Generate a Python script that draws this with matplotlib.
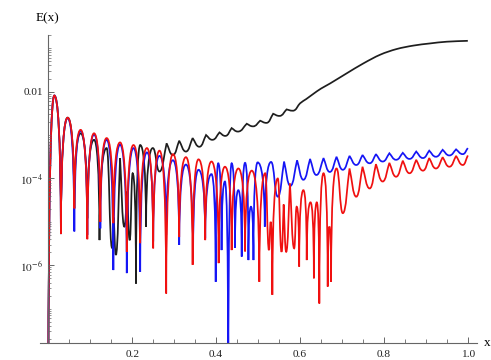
import matplotlib
matplotlib.use("Agg")
import matplotlib.pyplot as plt
import numpy as np
from matplotlib.path import Path
from matplotlib.patches import PathPatch
from matplotlib.ticker import FixedLocator, LogLocator, NullFormatter

# turning points of each curve: x and log10 E(x)
black_x = [0.000, 0.0143, 0.030, 0.046, 0.062, 0.077, 0.093, 0.109, 0.122, 0.139,
           0.152, 0.156, 0.161, 0.171, 0.181, 0.188, 0.194, 0.201, 0.209, 0.219,
           0.233, 0.249, 0.265, 0.282, 0.297, 0.312, 0.328, 0.344, 0.360, 0.376,
           0.391, 0.408, 0.422, 0.437, 0.452, 0.473, 0.488, 0.505, 0.520, 0.536,
           0.551, 0.568, 0.583, 0.600, 0.615, 0.632, 0.650, 0.672, 0.711, 0.751,
           0.791, 0.830, 0.870, 0.910, 0.950, 1.000]
black_log = [-9.0, -2.09, -5.28, -2.60, -4.69, -2.96, -4.92, -3.11, -5.42, -3.30,
             -5.60, -4.90, -5.76, -3.53, -5.11, -4.30, -5.42, -3.88, -6.42, -3.23,
             -5.11, -3.30, -3.84, -3.19, -3.46, -3.13, -3.38, -3.07, -3.27, -3.00,
             -3.11, -2.94, -3.02, -2.84, -2.92, -2.74, -2.80, -2.67, -2.72, -2.51,
             -2.56, -2.41, -2.44, -2.27, -2.17, -2.05, -1.93, -1.81, -1.58, -1.35,
             -1.15, -1.02, -0.94, -0.89, -0.85, -0.83]

blue_x = [0.000, 0.0143, 0.030, 0.046, 0.062, 0.077, 0.093, 0.109, 0.124, 0.139,
          0.155, 0.171, 0.187, 0.203, 0.219, 0.235, 0.250, 0.265, 0.281, 0.297,
          0.312, 0.328, 0.345, 0.358, 0.374, 0.389, 0.399, 0.405, 0.413, 0.421,
          0.429, 0.437, 0.445, 0.453, 0.461, 0.469, 0.477, 0.483, 0.489, 0.499,
          0.516, 0.531, 0.547, 0.562, 0.577, 0.593, 0.608, 0.624, 0.639, 0.656,
          0.671, 0.687, 0.702, 0.718, 0.734, 0.749, 0.766, 0.781, 0.797, 0.813,
          0.829, 0.845, 0.861, 0.877, 0.893, 0.908, 0.924, 0.940, 0.956, 0.972,
          0.988, 1.000]
blue_log = [-9.0, -2.09, -5.28, -2.61, -5.22, -2.90, -5.30, -2.99, -5.15, -3.11,
            -6.11, -3.22, -6.18, -3.30, -6.15, -3.40, -5.45, -3.48, -5.30, -3.58,
            -5.53, -3.68, -5.84, -3.80, -5.38, -3.90, -6.38, -3.65, -5.65, -4.07,
            -9.00, -3.65, -5.60, -4.27, -5.80, -3.64, -5.88, -4.65, -5.88, -3.63,
            -5.11, -3.62, -4.42, -3.61, -4.17, -3.58, -4.03, -3.55, -3.92, -3.53,
            -3.85, -3.50, -3.80, -3.48, -3.69, -3.46, -3.65, -3.44, -3.61, -3.42,
            -3.57, -3.41, -3.55, -3.38, -3.53, -3.36, -3.50, -3.34, -3.47, -3.33,
            -3.44, -3.30]

red_x = [0.000, 0.0143, 0.030, 0.046, 0.062, 0.077, 0.093, 0.109, 0.124, 0.139,
         0.155, 0.171, 0.187, 0.203, 0.219, 0.235, 0.250, 0.265, 0.281, 0.297,
         0.312, 0.328, 0.344, 0.358, 0.374, 0.389, 0.406, 0.421, 0.437, 0.453,
         0.469, 0.485, 0.503, 0.517, 0.526, 0.530, 0.534, 0.547, 0.556, 0.561,
         0.567, 0.576, 0.586, 0.592, 0.598, 0.608, 0.616, 0.625, 0.633, 0.640,
         0.646, 0.656, 0.666, 0.670, 0.674, 0.687, 0.702, 0.718, 0.734, 0.749,
         0.766, 0.781, 0.797, 0.813, 0.829, 0.845, 0.861, 0.877, 0.893, 0.908,
         0.924, 0.940, 0.956, 0.972, 0.988, 1.000]
red_log = [-9.0, -2.09, -5.28, -2.60, -4.69, -2.88, -5.40, -2.96, -5.00, -3.07,
           -5.03, -3.17, -5.69, -3.23, -5.49, -3.30, -5.61, -3.36, -6.65, -3.44,
           -5.35, -3.51, -5.99, -3.56, -5.42, -3.61, -5.95, -3.73, -5.65, -3.77,
           -5.68, -3.82, -6.38, -3.88, -5.65, -5.00, -6.68, -4.00, -5.69, -4.60,
           -5.69, -4.11, -5.61, -4.65, -6.03, -4.27, -5.88, -4.55, -6.30, -4.55,
           -6.88, -3.88, -6.49, -5.11, -6.38, -3.77, -4.80, -3.77, -4.42, -3.73,
           -4.23, -3.67, -4.07, -3.64, -3.96, -3.59, -3.88, -3.57, -3.82, -3.53,
           -3.77, -3.51, -3.73, -3.48, -3.69, -3.47]

y_ticks = [1e-2, 1e-4, 1e-6]
y_labels = ["0.01", r"$10^{-4}$", r"$10^{-6}$"]
x_ticks = [0.2, 0.4, 0.6, 0.8, 1.0]
x_labels = ["0.2", "0.4", "0.6", "0.8", "1.0"]


def oscillation_path(xs, logs):
    """Bezier path through the turning points: sharp dips, rounded humps."""
    pts = np.column_stack([xs, logs]).astype(float)
    n = len(pts)
    kinds = []
    for i in range(n):
        nb = [pts[j, 1] for j in (i - 1, i + 1) if 0 <= j < n]
        y = pts[i, 1]
        if all(y < v for v in nb):
            kinds.append("dip" if min(nb) - y > 1.2 else "round")
        elif all(y > v for v in nb):
            kinds.append("max")
        else:
            kinds.append("smooth")
    for i in range(n):
        if kinds[i] == "max":
            near_dip = any(kinds[j] == "dip" for j in (i - 1, i + 1) if 0 <= j < n)
            kinds[i] = "round" if near_dip else "point"

    def tangent(i):
        lo, hi = max(i - 1, 0), min(i + 1, n - 1)
        return (pts[hi] - pts[lo]) / (6.0 if hi - lo == 2 else 3.0)

    verts = [pts[0]]
    codes = [Path.MOVETO]
    for i in range(n - 1):
        p0, p1 = pts[i], pts[i + 1]
        d = p1 - p0
        k0, k1 = kinds[i], kinds[i + 1]
        if k0 == "dip":
            c0 = p0 + np.array([0.04 * d[0], 0.75 * d[1]])
        elif k0 == "round":
            c0 = p0 + np.array([0.5 * d[0], 0.0])
        elif k0 == "point":
            c0 = p0 + 0.35 * d
        else:
            c0 = p0 + tangent(i)
        if k1 == "dip":
            c1 = p1 - np.array([0.04 * d[0], 0.75 * d[1]])
        elif k1 == "round":
            c1 = p1 - np.array([0.5 * d[0], 0.0])
        elif k1 == "point":
            c1 = p1 - 0.35 * d
        else:
            c1 = p1 - tangent(i + 1)
        verts += [c0, c1, p1]
        codes += [Path.CURVE4] * 3
    verts = np.array(verts)
    verts[:, 1] = 10.0 ** verts[:, 1]
    return Path(verts, codes)


plt.rcParams["font.family"] = ["Liberation Serif", "DejaVu Serif"]
plt.rcParams["mathtext.fontset"] = "stix"

fig = plt.figure(figsize=(4.91, 3.60), dpi=100)
ax = fig.add_axes([0.0815, 0.046, 0.89, 0.857])
ax.set_yscale("log")
ax.set_xlim(-0.0198, 1.0219)
ax.set_ylim(10 ** -7.80, 10 ** -0.694)

for xs, logs, colour in [(black_x, black_log, "#1e1e1e"),
                         (blue_x, blue_log, "#1515f5"),
                         (red_x, red_log, "#f01010")]:
    ax.add_patch(PathPatch(oscillation_path(xs, logs), fill=False,
                           edgecolor=colour, linewidth=1.25,
                           transform=ax.transData))

axis_grey = "#666666"
for side in ("top", "right"):
    ax.spines[side].set_visible(False)
ax.spines["left"].set_position(("data", 0.0))
for side in ("left", "bottom"):
    ax.spines[side].set_color(axis_grey)
    ax.spines[side].set_linewidth(0.8)

ax.yaxis.set_major_locator(FixedLocator(y_ticks))
ax.set_yticklabels(y_labels)
ax.yaxis.set_minor_locator(LogLocator(base=10, subs=np.arange(1, 10), numticks=30))
ax.yaxis.set_minor_formatter(NullFormatter())
ax.set_xticks(x_ticks)
ax.set_xticklabels(x_labels)
ax.set_xticks(np.arange(0.05, 1.0, 0.05), minor=True)

ax.tick_params(which="both", direction="in", color=axis_grey, labelsize=8.2,
               labelcolor="#222222")
ax.tick_params(axis="y", which="major", length=4, width=0.7, pad=4)
ax.tick_params(axis="y", which="minor", length=2, width=0.5)
ax.tick_params(axis="x", which="major", length=4, width=0.7, pad=4.5)
ax.tick_params(axis="x", which="minor", length=3, width=0.6)

fig.text(47 / 491, 1 - 18 / 360, "E(x)", fontsize=9.5, ha="center", va="center")
fig.text(487 / 491, 1 - 343 / 360, "x", fontsize=9.5, ha="center", va="center")

fig.savefig("out.png", dpi=100)
